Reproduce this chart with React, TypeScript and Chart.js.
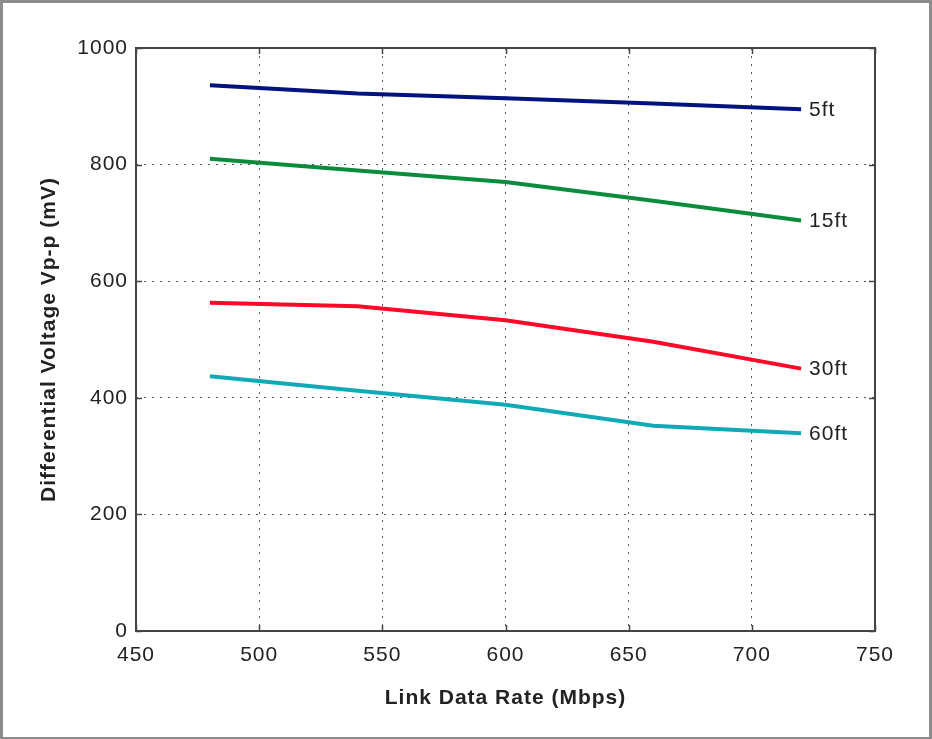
import React, { useEffect, useRef } from "react";
import { Chart, registerables } from "chart.js";

Chart.register(...registerables);

const rates = [480, 540, 600, 660, 720];
const ft5 = [936, 922, 914, 905, 895];
const ft15 = [810, 790, 770, 738, 704];
const ft30 = [563, 557, 533, 496, 450];
const ft60 = [437, 412, 388, 352, 339];
const seriesLabels = ["5ft", "15ft", "30ft", "60ft"];
const seriesColors = ["#00127e", "#0b8c3c", "#fb0a2a", "#12a9b6"];
const xTicks = [450, 500, 550, 600, 650, 700, 750];
const yTicks = [0, 200, 400, 600, 800, 1000];

const FONT = "'Liberation Sans', Arial, Helvetica, sans-serif";

const spacing = {
  id: "spacing",
  beforeDraw(chart: any) {
    (chart.ctx as any).letterSpacing = "1px";
  },
};

const endLabels = {
  id: "endLabels",
  afterDatasetsDraw(chart: any) {
    const ctx = chart.ctx;
    ctx.save();
    ctx.font = `21px ${FONT}`;
    ctx.fillStyle = "#222";
    ctx.textAlign = "left";
    ctx.textBaseline = "middle";
    chart.data.datasets.forEach((ds: any, i: number) => {
      const meta = chart.getDatasetMeta(i);
      const last = meta.data[meta.data.length - 1];
      ctx.fillText(ds.label, last.x + 8, last.y + 1);
    });
    ctx.restore();
  },
};

const boxPlugin = {
  id: "boxPlugin",
  afterDraw(chart: any) {
    const { left, top, right, bottom } = chart.chartArea;
    const ctx = chart.ctx;
    ctx.save();
    ctx.strokeStyle = "#444";
    ctx.lineWidth = 1.5;
    const xs = chart.scales.x;
    const ys = chart.scales.y;
    ctx.beginPath();
    xTicks.forEach((v) => {
      const px = Math.round(xs.getPixelForValue(v)) + 0.5;
      ctx.moveTo(px, bottom);
      ctx.lineTo(px, bottom - 6);
      ctx.moveTo(px, top);
      ctx.lineTo(px, top + 6);
    });
    yTicks.forEach((v) => {
      const py = Math.round(ys.getPixelForValue(v)) + 0.5;
      ctx.moveTo(left, py);
      ctx.lineTo(left + 6, py);
      ctx.moveTo(right, py);
      ctx.lineTo(right - 6, py);
    });
    ctx.stroke();
    ctx.lineWidth = 2;
    ctx.strokeRect(left, top, right - left, bottom - top);
    ctx.restore();
  },
};

export default function App() {
  const ref = useRef<HTMLCanvasElement>(null);
  useEffect(() => {
    const series = [ft5, ft15, ft30, ft60];
    const chart = new Chart(ref.current!, {
      type: "line",
      data: {
        datasets: series.map((vals, i) => ({
          label: seriesLabels[i],
          data: vals.map((v, j) => ({ x: rates[j], y: v })),
          borderColor: seriesColors[i],
          backgroundColor: seriesColors[i],
          borderWidth: 4,
          pointRadius: 0,
          tension: 0,
          fill: false,
        })),
      },
      options: {
        animation: false,
        responsive: false,
        layout: { padding: { left: 0, top: 48, right: 57, bottom: 0 } },
        plugins: { legend: { display: false }, tooltip: { enabled: false } },
        scales: {
          x: {
            type: "linear",
            min: 450,
            max: 750,
            afterBuildTicks: (s: any) => {
              s.ticks = xTicks.map((v) => ({ value: v }));
            },
            afterFit: (s: any) => {
              s.height = 108;
            },
            ticks: {
              font: { family: FONT, size: 21 },
              color: "#222",
              padding: 12,
              callback: (v: any) => String(v),
            },
            grid: { color: "#555", drawTicks: false, lineWidth: 1 },
            border: { display: false, dash: [2, 6] },
            title: {
              display: true,
              text: "Link Data Rate (Mbps)",
              font: { family: FONT, size: 21, weight: "bold" },
              color: "#222",
              padding: { top: 0, bottom: 28 },
            },
          },
          y: {
            type: "linear",
            min: 0,
            max: 1000,
            afterBuildTicks: (s: any) => {
              s.ticks = yTicks.map((v) => ({ value: v }));
            },
            afterFit: (s: any) => {
              s.width = 136;
            },
            ticks: {
              font: { family: FONT, size: 21 },
              color: "#222",
              padding: 8,
              callback: (v: any) => String(v),
            },
            grid: { color: "#555", drawTicks: false, lineWidth: 1 },
            border: { display: false, dash: [2, 6] },
            title: {
              display: true,
              text: "Differential Voltage Vp-p (mV)",
              font: { family: FONT, size: 21, weight: "bold" },
              color: "#222",
              padding: { top: 37, bottom: 0 },
            },
          },
        },
      },
      plugins: [spacing, endLabels, boxPlugin],
    });
    return () => chart.destroy();
  }, []);
  return (
    <div
      style={{
        position: "absolute",
        left: 0,
        top: 0,
        width: 932,
        height: 739,
        boxSizing: "border-box",
        border: "3px solid #8c8c8c",
        borderBottomWidth: 2,
        background: "#fff",
      }}
    >
      <canvas
        ref={ref}
        width={932}
        height={739}
        style={{ position: "absolute", left: -3, top: -3, width: 932, height: 739 }}
      />
    </div>
  );
}
